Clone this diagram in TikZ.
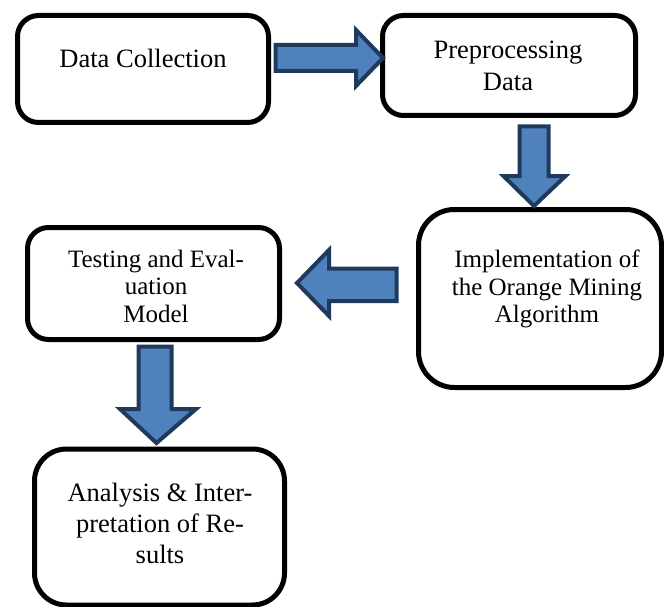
\documentclass[tikz,border=0pt]{standalone}
\usepackage{fontspec}
\setmainfont{Liberation Serif}
\newfontfamily\tnr{Liberation Serif}
\definecolor{arrfill}{HTML}{4F81BD}
\definecolor{arrline}{HTML}{1F3A5C}
\begin{document}
\begin{tikzpicture}[x=1pt,y=-1pt,
  box/.style={draw=black, line width=5pt, fill=white, inner sep=0pt},
  lbl/.style={align=center, inner sep=0pt},
  blockarrow/.style={draw=arrline, fill=arrfill, line width=4pt, line join=miter}]
\useasboundingbox (0,0) rectangle (664,607);
% boxes
\node[box, rounded corners=21pt, minimum width=251pt, minimum height=107pt] (b1) at (143,69) {};
\node[box, rounded corners=21pt, minimum width=253pt, minimum height=100pt] (b2) at (509,65.5) {};
\node[box, rounded corners=36pt, minimum width=243pt, minimum height=178pt] (b3) at (540,298.5) {};
\node[box, rounded corners=21pt, minimum width=252pt, minimum height=112pt] (b4) at (153.5,283.5) {};
\node[box, rounded corners=32pt, minimum width=250pt, minimum height=156pt] (b5) at (159.5,527) {};
% labels
\node[lbl, font=\tnr\fontsize{26.5}{30}\selectfont] (t1) at (143,58) {Data Collection};
\node[lbl, font=\tnr\fontsize{26.5}{32}\selectfont] (t2) at (508,66) {Preprocessing\\Data};
\node[lbl, font=\tnr\fontsize{25}{27.5}\selectfont] (t3) at (547,289) {Implementation of\\the Orange Mining\\Algorithm};
\node[lbl, font=\tnr\fontsize{25}{27.5}\selectfont] (t4) at (156,286) {Testing and Eval-\\uation\\Model};
\node[lbl, font=\tnr\fontsize{26.5}{31}\selectfont] (t5) at (160,523) {Analysis \& Inter-\\pretation of Re-\\sults};
% block arrows
\draw[blockarrow] (275.5,45) -- (356,45) -- (356,30) -- (383,58) -- (356,86) -- (356,71) -- (275.5,71) -- cycle;
\draw[blockarrow] (519.5,126.5) -- (548.5,126.5) -- (548.5,176) -- (565.5,176) -- (534,206) -- (503.5,176) -- (519.5,176) -- cycle;
\draw[blockarrow] (396.5,268.5) -- (329,268.5) -- (329,250) -- (297,283) -- (329,316) -- (329,301) -- (396.5,301) -- cycle;
\draw[blockarrow] (138.5,346.5) -- (171.5,346.5) -- (171.5,409) -- (196,409) -- (156.5,443) -- (120,409) -- (138.5,409) -- cycle;
\end{tikzpicture}
\end{document}
